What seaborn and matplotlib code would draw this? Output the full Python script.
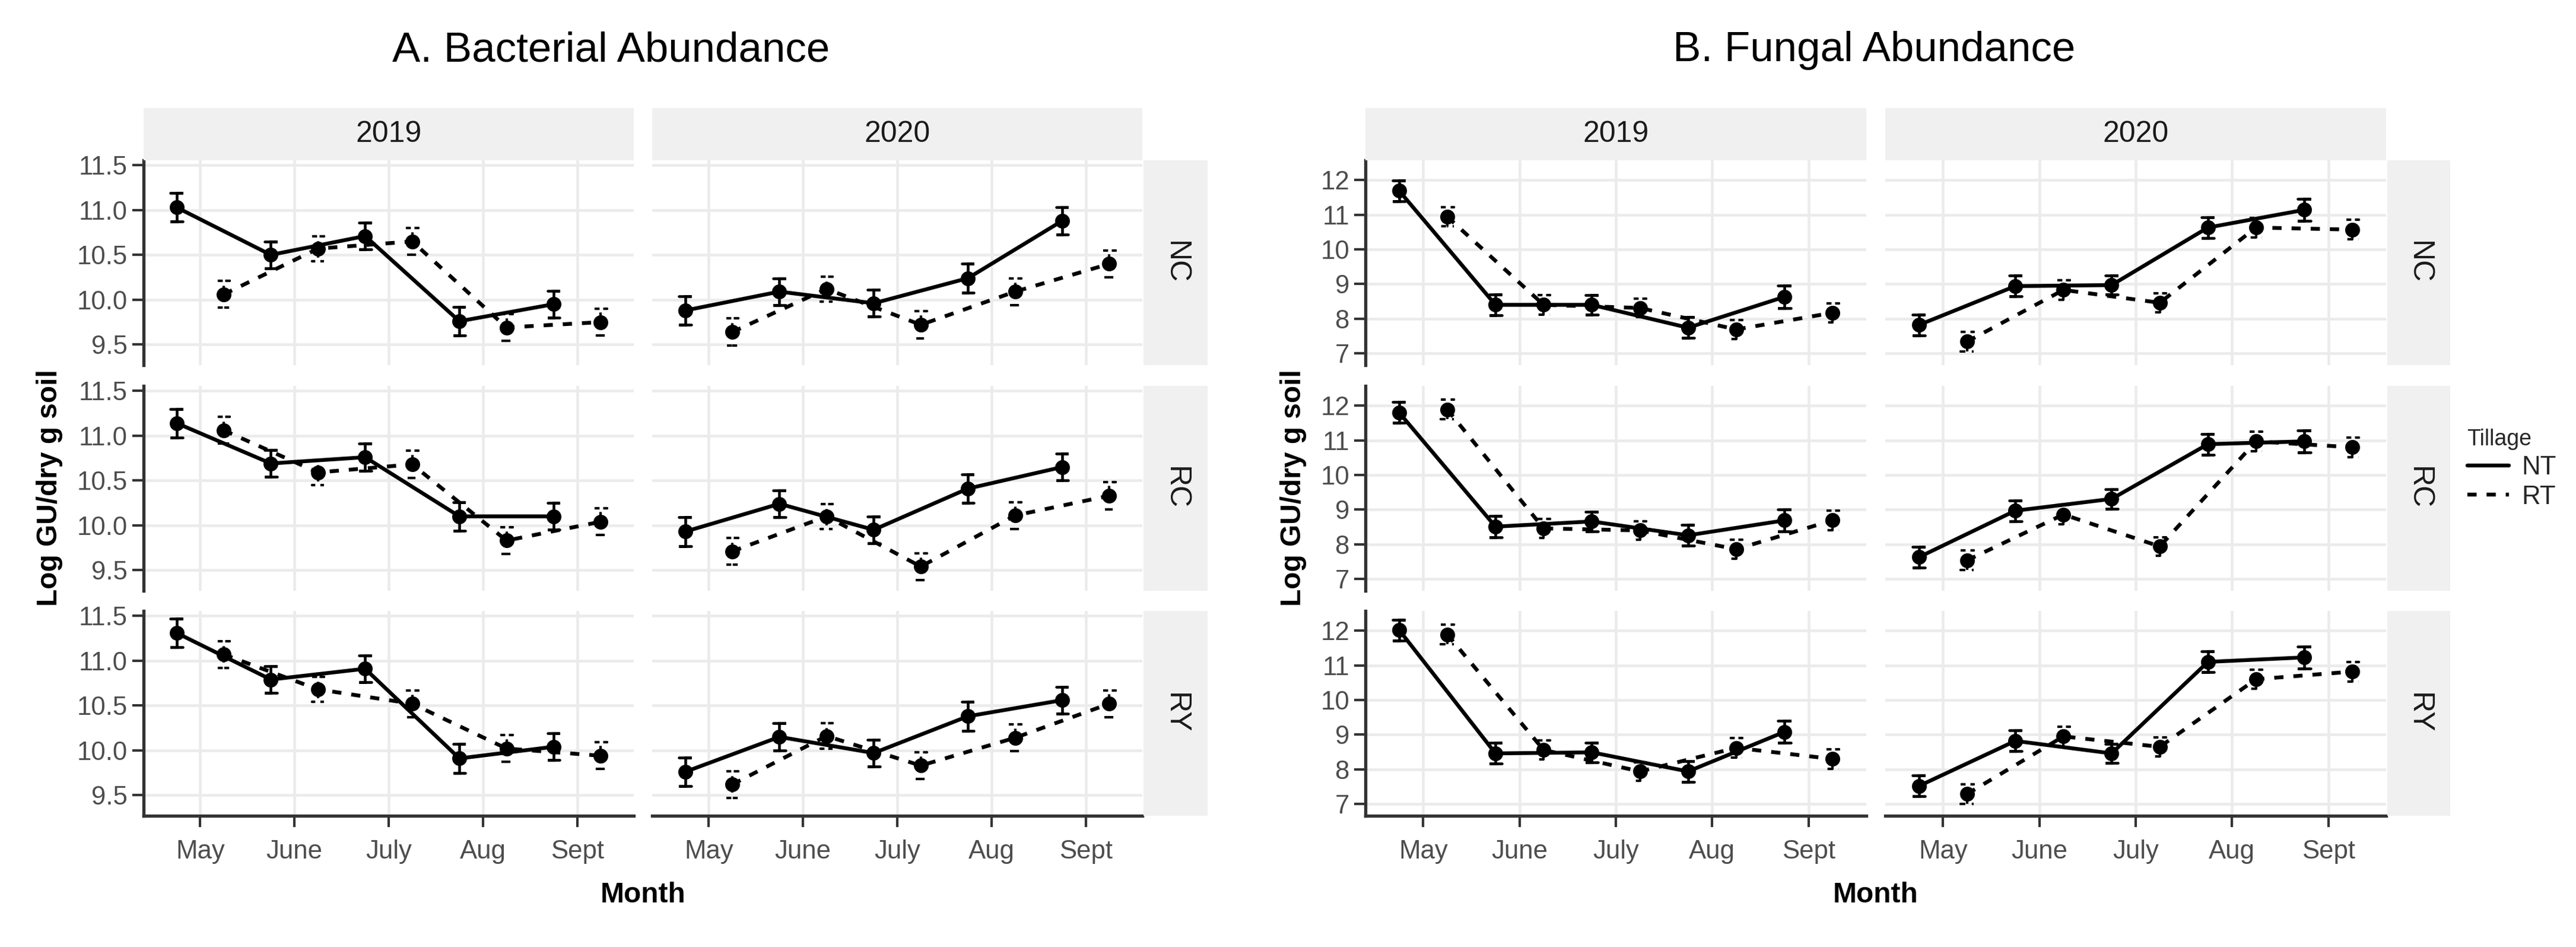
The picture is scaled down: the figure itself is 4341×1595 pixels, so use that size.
import numpy as np
import pandas as pd
import matplotlib
matplotlib.use("Agg")
import matplotlib.pyplot as plt
import seaborn as sns
from matplotlib.lines import Line2D

# ---------------- data ----------------
months = ["May", "June", "July", "Aug", "Sept"]
years = ["2019", "2020"]
covers = ["NC", "RC", "RY"]
tillages = ["NT", "RT"]

# Bacterial abundance (Log GU / dry g soil)
bact_NC_2019_NT = [11.03, 10.50, 10.71, 9.76, 9.95]
bact_NC_2019_RT = [10.06, 10.57, 10.65, 9.69, 9.75]
bact_NC_2020_NT = [9.88, 10.09, 9.96, 10.24, 10.88]
bact_NC_2020_RT = [9.64, 10.12, 9.72, 10.09, 10.40]
bact_RC_2019_NT = [11.14, 10.69, 10.76, 10.10, 10.10]
bact_RC_2019_RT = [11.06, 10.59, 10.68, 9.83, 10.04]
bact_RC_2020_NT = [9.93, 10.24, 9.95, 10.41, 10.65]
bact_RC_2020_RT = [9.71, 10.10, 9.54, 10.11, 10.33]
bact_RY_2019_NT = [11.31, 10.79, 10.91, 9.91, 10.04]
bact_RY_2019_RT = [11.07, 10.68, 10.52, 10.02, 9.94]
bact_RY_2020_NT = [9.76, 10.15, 9.97, 10.38, 10.56]
bact_RY_2020_RT = [9.62, 10.16, 9.83, 10.14, 10.52]

# Fungal abundance (Log GU / dry g soil)
fung_NC_2019_NT = [11.69, 8.40, 8.40, 7.74, 8.63]
fung_NC_2019_RT = [10.94, 8.40, 8.31, 7.69, 8.17]
fung_NC_2020_NT = [7.82, 8.94, 8.97, 10.63, 11.14]
fung_NC_2020_RT = [7.34, 8.83, 8.46, 10.63, 10.57]
fung_RC_2019_NT = [11.80, 8.51, 8.66, 8.26, 8.69]
fung_RC_2019_RT = [11.89, 8.46, 8.40, 7.86, 8.69]
fung_RC_2020_NT = [7.63, 8.97, 9.31, 10.89, 10.97]
fung_RC_2020_RT = [7.54, 8.86, 7.94, 10.97, 10.80]
fung_RY_2019_NT = [12.02, 8.46, 8.49, 7.94, 9.08]
fung_RY_2019_RT = [11.89, 8.56, 7.94, 8.62, 8.30]
fung_RY_2020_NT = [7.52, 8.82, 8.46, 11.10, 11.23]
fung_RY_2020_RT = [7.29, 8.95, 8.65, 10.60, 10.82]

# standard errors (per month)
bact_se_NT = [0.16, 0.15, 0.15, 0.16, 0.15]
bact_se_RT = [0.15, 0.14, 0.15, 0.15, 0.15]
fung_se_NT = [0.30, 0.30, 0.28, 0.30, 0.32]
fung_se_RT = [0.28, 0.28, 0.27, 0.28, 0.28]

bact_yticks = [9.5, 10.0, 10.5, 11.0, 11.5]
fung_yticks = [7, 8, 9, 10, 11, 12]

series = {
    "bact": {("NC", "2019", "NT"): bact_NC_2019_NT, ("NC", "2019", "RT"): bact_NC_2019_RT,
             ("NC", "2020", "NT"): bact_NC_2020_NT, ("NC", "2020", "RT"): bact_NC_2020_RT,
             ("RC", "2019", "NT"): bact_RC_2019_NT, ("RC", "2019", "RT"): bact_RC_2019_RT,
             ("RC", "2020", "NT"): bact_RC_2020_NT, ("RC", "2020", "RT"): bact_RC_2020_RT,
             ("RY", "2019", "NT"): bact_RY_2019_NT, ("RY", "2019", "RT"): bact_RY_2019_RT,
             ("RY", "2020", "NT"): bact_RY_2020_NT, ("RY", "2020", "RT"): bact_RY_2020_RT},
    "fung": {("NC", "2019", "NT"): fung_NC_2019_NT, ("NC", "2019", "RT"): fung_NC_2019_RT,
             ("NC", "2020", "NT"): fung_NC_2020_NT, ("NC", "2020", "RT"): fung_NC_2020_RT,
             ("RC", "2019", "NT"): fung_RC_2019_NT, ("RC", "2019", "RT"): fung_RC_2019_RT,
             ("RC", "2020", "NT"): fung_RC_2020_NT, ("RC", "2020", "RT"): fung_RC_2020_RT,
             ("RY", "2019", "NT"): fung_RY_2019_NT, ("RY", "2019", "RT"): fung_RY_2019_RT,
             ("RY", "2020", "NT"): fung_RY_2020_NT, ("RY", "2020", "RT"): fung_RY_2020_RT},
}
ses = {"bact": {"NT": bact_se_NT, "RT": bact_se_RT},
       "fung": {"NT": fung_se_NT, "RT": fung_se_RT}}

dodge = {"NT": -0.25, "RT": 0.25}
rows = []
for meas, d in series.items():
    for (cov, yr, till), vals in d.items():
        for i, (m, v) in enumerate(zip(months, vals)):
            rows.append(dict(measure=meas, Cover=cov, Year=yr, Tillage=till,
                             Month=m, value=v, se=ses[meas][till][i],
                             xpos=i + 1 + dodge[till]))
df = pd.DataFrame(rows)

# ---------------- figure ----------------
sns.set_theme(style="white")
plt.rcParams["font.family"] = ["Liberation Sans", "DejaVu Sans"]

W, H = 4341, 1595
DPI = 300
fig = plt.figure(figsize=(W / DPI, H / DPI), dpi=DPI)
fig.patch.set_facecolor("white")


def px_axes(x0, y0, x1, y1):
    return fig.add_axes([x0 / W, 1 - y1 / H, (x1 - x0) / W, (y1 - y0) / H])


row_y = [(270, 615), (650, 995), (1029, 1374)]
col_strip_y = (182, 270)

blocks = {
    "bact": dict(cols=[(242, 1068), (1099, 1925)], rstrip=(1927, 2035),
                 ylim=(9.27, 11.555), yticks=bact_yticks,
                 yfmt=lambda v: f"{v:.1f}", title="A. Bacterial Abundance",
                 title_x=1030, ylab_x=84),
    "fung": dict(cols=[(2301, 3145), (3177, 4021)], rstrip=(4023, 4129),
                 ylim=(6.66, 12.57), yticks=fung_yticks,
                 yfmt=lambda v: f"{v:d}", title="B. Fungal Abundance",
                 title_x=3158, ylab_x=2180),
}

GRID = "#EBEBEB"
AXC = "#333333"
TXT = "#4D4D4D"
STRIP_BG = "#F0F0F0"
CAP = 0.065

for meas, b in blocks.items():
    for ri, cov in enumerate(covers):
        for ci, yr in enumerate(years):
            x0, x1 = b["cols"][ci]
            y0, y1 = row_y[ri]
            ax = px_axes(x0, y0, x1, y1)
            sub = df[(df.measure == meas) & (df.Cover == cov) & (df.Year == yr)]
            sns.lineplot(data=sub, x="xpos", y="value", style="Tillage",
                         style_order=tillages, units="Tillage", estimator=None,
                         dashes={"NT": "", "RT": (2.4, 2.6)},
                         markers={"NT": "o", "RT": "o"},
                         color="black", linewidth=1.55, markersize=6.0,
                         markeredgewidth=0, legend=False, ax=ax, zorder=3)
            # error bars (ggplot-style single path: caps + vertical)
            for till in tillages:
                s = sub[sub.Tillage == till]
                for xp, v, e in zip(s.xpos, s.value, s.se):
                    px = [xp - CAP, xp + CAP, xp, xp, xp - CAP, xp + CAP]
                    py = [v + e, v + e, v + e, v - e, v - e, v - e]
                    if till == "NT":
                        ax.plot(px, py, color="black", linewidth=1.1,
                                solid_joinstyle="miter", zorder=3)
                    else:
                        ax.plot(px, py, color="black", linewidth=1.0,
                                linestyle=(0, (2.0, 2.6)), zorder=3)
            ax.set_xlim(0.4, 5.6)
            ax.set_ylim(*b["ylim"])
            ax.set_xticks(range(1, 6))
            ax.set_xticklabels(months)
            ax.set_yticks(b["yticks"])
            ax.set_yticklabels([b["yfmt"](v) for v in b["yticks"]])
            ax.set_xlabel("")
            ax.set_ylabel("")
            ax.set_facecolor("white")
            ax.grid(True, color=GRID, linewidth=1.1)
            ax.set_axisbelow(True)
            for sp in ax.spines.values():
                sp.set_visible(False)
            left = ci == 0
            bottom = ri == 2
            if left:
                ax.spines["left"].set_visible(True)
                ax.spines["left"].set_color(AXC)
                ax.spines["left"].set_linewidth(1.3)
            if bottom:
                ax.spines["bottom"].set_visible(True)
                ax.spines["bottom"].set_color(AXC)
                ax.spines["bottom"].set_linewidth(1.3)
            ax.tick_params(axis="y", left=left, labelleft=left, length=4.5,
                           width=1.0, color=AXC, labelsize=10.5, labelcolor=TXT, pad=2)
            ax.tick_params(axis="x", bottom=bottom, labelbottom=bottom, length=4.5,
                           width=1.0, color=AXC, labelsize=10.5, labelcolor=TXT, pad=5)

            # row strip
            if ci == 1:
                sx0, sx1 = b["rstrip"]
                sax = px_axes(sx0, y0, sx1, y1)
                sax.set_facecolor(STRIP_BG)
                sax.set_xticks([]); sax.set_yticks([])
                for sp in sax.spines.values():
                    sp.set_visible(False)
                sax.text(0.5, 0.5, cov, rotation=-90, ha="center", va="center",
                         fontsize=12, color="#1A1A1A", transform=sax.transAxes)
            # column strip
            if ri == 0:
                cax = px_axes(x0, col_strip_y[0], x1, col_strip_y[1])
                cax.set_facecolor(STRIP_BG)
                cax.set_xticks([]); cax.set_yticks([])
                for sp in cax.spines.values():
                    sp.set_visible(False)
                cax.text(0.5, 0.5, yr, ha="center", va="center", fontsize=12,
                         color="#1A1A1A", transform=cax.transAxes)

    cx = (b["cols"][0][0] + b["cols"][1][1]) / 2
    fig.text(cx / W, 1 - 1507 / H, "Month", ha="center", va="center",
             fontsize=11.5, fontweight="bold", color="black")
    fig.text(b["ylab_x"] / W, 1 - 822 / H, "Log GU/dry g soil", rotation=90,
             ha="center", va="center", fontsize=11.5, fontweight="bold", color="black")
    fig.text(b["title_x"] / W, 1 - 85 / H, b["title"], ha="center", va="center",
             fontsize=17, color="black")

# legend
handles = [Line2D([0], [0], color="black", linewidth=1.55, linestyle="-"),
           Line2D([0], [0], color="black", linewidth=1.55, linestyle=(0, (2.4, 2.6)))]
leg = fig.legend(handles, tillages, title="Tillage", loc="center left",
                 bbox_to_anchor=(4140 / W, 1 - 790 / H), frameon=False,
                 fontsize=10.5, title_fontsize=9, handlelength=1.6,
                 handletextpad=0.5, labelspacing=0.2, borderaxespad=0)
leg._legend_box.align = "left"

fig.savefig("out.png", dpi=DPI, facecolor="white")
